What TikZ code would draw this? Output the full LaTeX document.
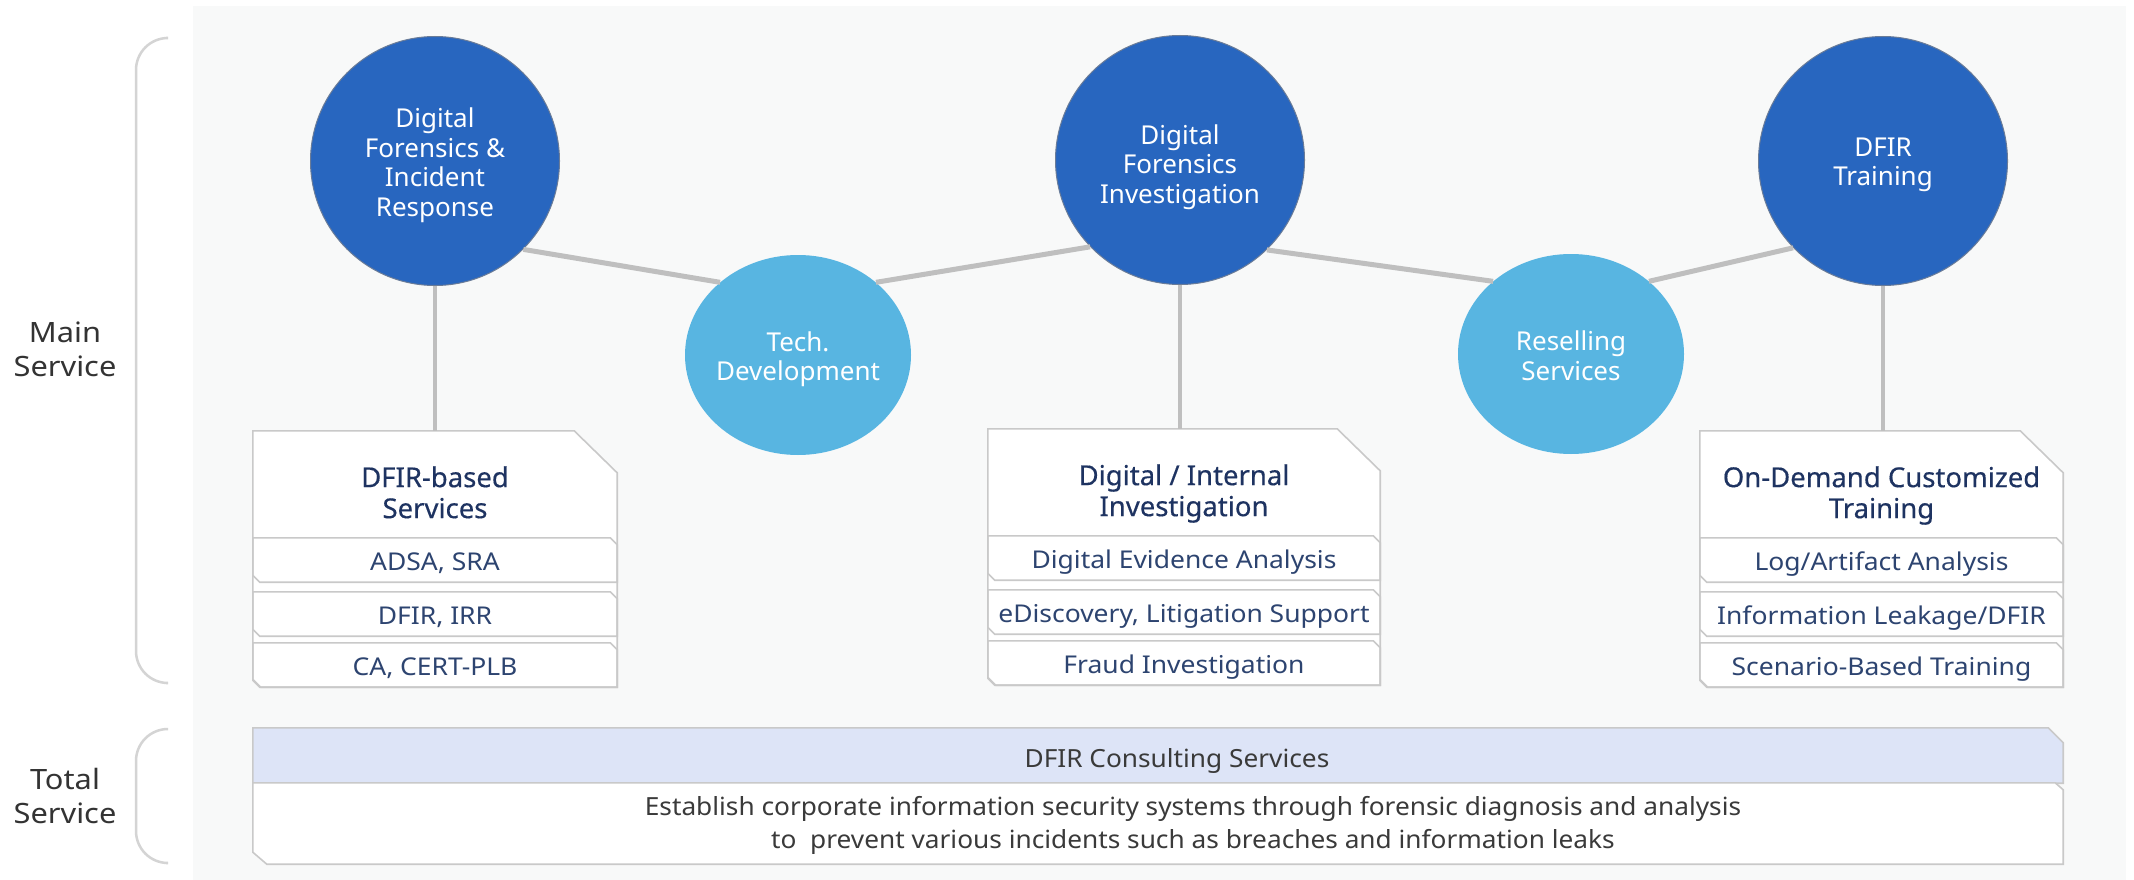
\documentclass[tikz,border=0pt]{standalone}
\usepackage{fontspec}
\setmainfont{Noto Sans}
\newfontfamily\titlefont{Noto Sans}[FakeBold=0.4]
\newfontfamily\labelfont{Noto Sans}[FakeStretch=1.1]
\newfontfamily\rowfont{Noto Sans}[FakeStretch=1.08]
\newfontfamily\bodyfont{Noto Sans}[FakeStretch=1.05]
\usetikzlibrary{shapes.geometric}

\definecolor{panelbg}{HTML}{F8F9F9}
\definecolor{dfblue}{HTML}{2866BF}
\definecolor{ltblue}{HTML}{58B5E1}
\definecolor{circleedge}{HTML}{6A7C98}
\definecolor{linkgray}{HTML}{BFBFBF}
\definecolor{framegray}{HTML}{C9C9C9}
\definecolor{bracketgray}{HTML}{D4D4D4}
\definecolor{lavender}{HTML}{DDE4F7}
\definecolor{titlenavy}{HTML}{1E3361}
\definecolor{rownavy}{HTML}{2D4470}
\definecolor{labelgray}{HTML}{333333}
\definecolor{bodygray}{HTML}{3A3A3A}

% outline of a service list box: large chamfer top right, small one bottom left
\newcommand\frameoutline[1]{%
  \draw[boxline, fill=white] (#1.north west) -- ([xshift=-43pt]#1.north east)
    -- ([yshift=-42pt]#1.north east) -- (#1.south east)
    -- ([xshift=8pt]#1.south west) -- ([yshift=8pt]#1.south west) -- cycle;}
% outline of one list row: small chamfers top right and bottom left
\newcommand\rowoutline[1]{%
  \draw[boxline] (#1.north west) -- ([xshift=-7pt]#1.north east)
    -- ([yshift=-7pt]#1.north east) -- (#1.south east)
    -- ([xshift=7pt]#1.south west) -- ([yshift=7pt]#1.south west) -- cycle;}
% service box: name, x centre, width, y top, title, three rows
\newcommand\svcbox[8]{%
  \node[boxframe, minimum width=#3pt] (#1) at (#2,#4+128) {};
  \frameoutline{#1}
  \node[boxtitle] (#1t) at (#2,#4+64.5) {#5\vphantom{g}};
  \node[rowframe, minimum width=#3pt] (#1a) at (#2,#4+129) {#6};
  \node[rowframe, minimum width=#3pt] (#1b) at (#2,#4+183) {#7};
  \node[rowframe, minimum width=#3pt] (#1c) at (#2,#4+234) {#8};
  \rowoutline{#1a}\rowoutline{#1b}\rowoutline{#1c}}

\begin{document}
\begin{tikzpicture}[x=1pt, y=-1pt,
  bigcircle/.style={ellipse, fill=dfblue, draw=circleedge, line width=1pt,
    minimum width=249pt, minimum height=249pt, inner sep=0pt},
  smallcircle/.style={ellipse, fill=ltblue, minimum width=226pt,
    minimum height=200pt, inner sep=0pt},
  circletext/.style={text=white, align=center, inner sep=0pt,
    font=\fontsize{26}{29.5}\selectfont},
  link/.style={draw=linkgray, line width=5pt},
  drop/.style={draw=linkgray, line width=4pt},
  boxline/.style={draw=framegray, line width=1.6pt, line join=miter},
  boxframe/.style={rectangle, inner sep=0pt, minimum height=256pt},
  boxtitle/.style={align=center, text=titlenavy, inner sep=0pt,
    font=\titlefont\fontsize{27.5}{31}\selectfont},
  rowframe/.style={rectangle, inner sep=0pt, minimum height=44pt,
    text height=20pt, text depth=0pt, text=rownavy,
    font=\rowfont\fontsize{24.5}{28}\selectfont},
  bracket/.style={draw=bracketgray, line width=2.5pt, rounded corners=32pt},
  sidelabel/.style={align=center, text=labelgray,
    font=\labelfont\fontsize{28}{34}\selectfont},
  bodytext/.style={align=center, text=bodygray, inner sep=0pt,
    font=\bodyfont\fontsize{25}{33}\selectfont}]

\useasboundingbox (0,0) rectangle (2134,880);
\fill[white] (0,0) rectangle (2134,880);
\fill[panelbg] (193,6) rectangle (2126,880);

% side brackets and their labels
\draw[bracket] (166,38) -- (136,38) -- (136,683) -- (166,683);
\draw[bracket] (166,729) -- (136,729) -- (136,863) -- (166,863);
\node[sidelabel] (mainlbl) at (65,349) {Main\\Service};
\node[sidelabel] (totallbl) at (65,796) {Total\\Service};

% service circles
\node[bigcircle] (dfir) at (435,161) {};
\node[bigcircle] (dfi) at (1180,160) {};
\node[bigcircle] (train) at (1883,161) {};
\node[smallcircle] (tech) at (798,355) {};
\node[smallcircle] (resell) at (1571,354) {};
\node[circletext] (dfirtxt) at ([yshift=-4pt]dfir.center) {Digital\\Forensics \&\\Incident\\Response};
\node[circletext] (dfitxt) at ([yshift=-7pt]dfi.center) {Digital\\Forensics\\Investigation};
\node[circletext] (traintxt) at ([yshift=-4pt]train.center) {DFIR\\Training};
\node[circletext] (techtxt) at ([yshift=-4pt]tech.center) {Tech.\\Development};
\node[circletext] (reselltxt) at ([yshift=-1.5pt]resell.center) {Reselling\\Services};

% links between circles
\draw[link] (dfir.-45) -- (tech.137);
\draw[link] (tech.43) -- (dfi.-136);
\draw[link] (dfi.-46) -- (resell.137);
\draw[link] (resell.43) -- (train.-136);

% service boxes
\svcbox{boxa}{435}{364}{431}{DFIR-based\\Services}{ADSA, SRA}{DFIR, IRR}{CA, CERT-PLB}
\svcbox{boxb}{1184}{392}{429}{Digital / Internal\\Investigation}{Digital Evidence Analysis}{eDiscovery, Litigation Support}{Fraud Investigation}
\svcbox{boxc}{1881.5}{363}{431}{On-Demand Customized\\Training}{Log/Artifact Analysis}{Information Leakage/DFIR}{Scenario-Based Training}

% drops from circles to boxes
\draw[drop] (dfir.south) -- (dfir.south |- boxa.north);
\draw[drop] (dfi.south) -- (dfi.south |- boxb.north);
\draw[drop] (train.south) -- (train.south |- boxc.north);

% consulting band
\node[rectangle, inner sep=0pt, minimum width=1810pt, minimum height=55pt] (cons) at (1158,755.5) {};
\draw[boxline, fill=lavender] (cons.north west) -- ([xshift=-15pt]cons.north east)
  -- ([yshift=-15pt]cons.north east) -- (cons.south east) -- (cons.south west) -- cycle;
\node[bodytext] (constext) at (1177,761) {DFIR Consulting Services};
\node[rectangle, inner sep=0pt, minimum width=1810pt, minimum height=81pt] (goal) at (1158,823.5) {};
\draw[boxline, fill=white] (goal.north west) -- ([xshift=-8pt]goal.north east)
  -- ([yshift=-7pt]goal.north east) -- (goal.south east)
  -- ([xshift=14pt]goal.south west) -- ([yshift=12pt]goal.south west) -- cycle;
\node[bodytext] (goaltext) at (1193,825) {Establish corporate information security systems through forensic diagnosis and analysis\\to\ \ prevent various incidents such as breaches and information leaks};
\end{tikzpicture}
\end{document}
